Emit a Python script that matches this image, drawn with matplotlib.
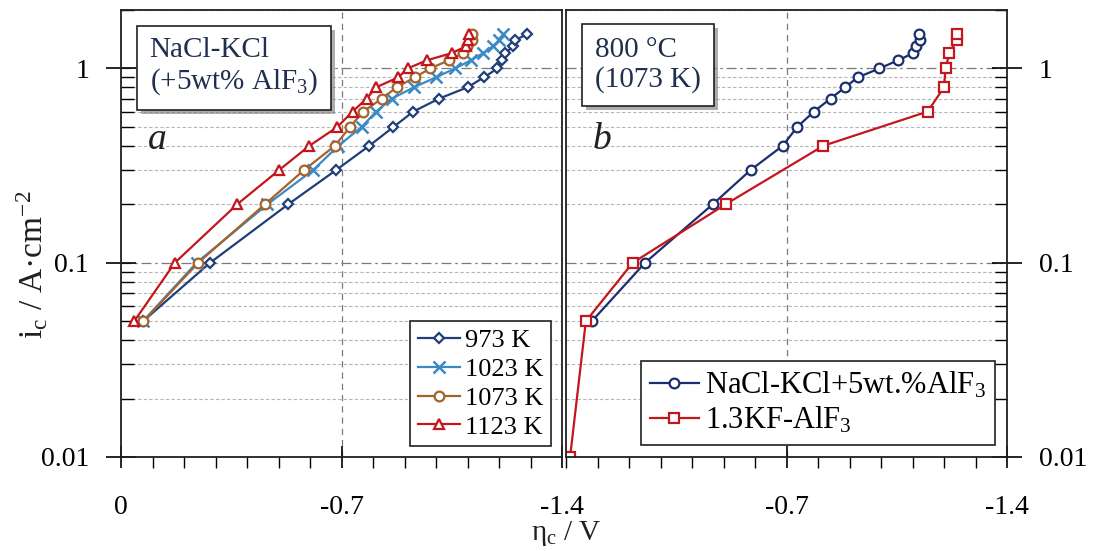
import numpy as np
import matplotlib
matplotlib.use("Agg")
import matplotlib.pyplot as plt
from matplotlib.ticker import FixedLocator, LogLocator, NullFormatter, FuncFormatter
import matplotlib.patheffects as pe

plt.rcParams['font.family'] = ['Liberation Serif', 'DejaVu Serif']
plt.rcParams['mathtext.fontset'] = 'custom'
plt.rcParams['mathtext.rm'] = 'Liberation Serif'
plt.rcParams['mathtext.it'] = 'Liberation Serif:italic'

# ---- data (cathodic overpotential, V ; current density, A/cm2) ----
i_levels = [0.05, 0.1, 0.2, 0.3, 0.4, 0.5, 0.6, 0.7, 0.8, 0.9, 1.0, 1.1, 1.2, 1.3, 1.4, 1.5]

eta_973 = [-0.07, -0.283, -0.531, -0.683, -0.788, -0.865, -0.928, -1.01, -1.10, -1.152,
           -1.195, -1.21, -1.219, -1.245, -1.25, -1.29]
eta_1023 = [-0.07, -0.24, -0.465, -0.61, -0.69, -0.764, -0.81, -0.86, -0.93, -1.0,
            -1.06, -1.11, -1.15, -1.18, -1.20, -1.214]
eta_1073 = [-0.071, -0.245, -0.457, -0.581, -0.679, -0.727, -0.769, -0.828, -0.875, -0.933,
            -0.981, -1.04, -1.087, -1.097, -1.113, -1.113]
eta_1123 = [-0.042, -0.171, -0.369, -0.502, -0.598, -0.687, -0.735, -0.78, -0.81, -0.88,
            -0.91, -0.97, -1.05, -1.095, -1.10, -1.105]

i_chl = [0.05, 0.1, 0.2, 0.3, 0.4, 0.5, 0.6, 0.7, 0.8, 0.9, 1.0, 1.1, 1.2, 1.3, 1.4, 1.5]
eta_chl = [-0.082, -0.251, -0.466, -0.586, -0.688, -0.734, -0.787, -0.84, -0.886, -0.926,
           -0.995, -1.053, -1.103, -1.111, -1.124, -1.122]
i_fl = [0.01, 0.05, 0.1, 0.2, 0.4, 0.6, 0.8, 1.0, 1.2, 1.4, 1.5]
eta_fl = [-0.013, -0.063, -0.212, -0.507, -0.817, -1.148, -1.2, -1.205, -1.217, -1.24, -1.24]

c_973 = '#203f7a'
c_1023 = '#3b8ac4'
c_1073 = '#a5622a'
c_1123 = '#c4161c'
c_blue = '#1b2f6e'
c_red = '#c4161c'
txt_c = '#1f2f4f'

fig = plt.figure(figsize=(11.01, 5.51), dpi=100)
axa = fig.add_axes([121/1101, 94/551, 441/1101, 447/551])
axb = fig.add_axes([566/1101, 94/551, 441/1101, 447/551])

def fmt_x(v, p):
    if abs(v) < 1e-9:
        return '0'
    return '%g' % v

def style(ax, right=False):
    ax.set_yscale('log')
    ax.set_ylim(0.01, 2)
    ax.set_xlim(0, -1.4)
    if right:
        ax.xaxis.set_major_locator(FixedLocator([-0.7, -1.4]))
    else:
        ax.xaxis.set_major_locator(FixedLocator([0, -0.7, -1.4]))
    ax.xaxis.set_minor_locator(FixedLocator(np.arange(0, -1.41, -0.1)))
    ax.xaxis.set_major_formatter(FuncFormatter(fmt_x))
    ax.yaxis.set_major_locator(LogLocator(base=10, numticks=10))
    ax.yaxis.set_minor_locator(LogLocator(base=10, subs=np.arange(2, 10), numticks=10))
    ax.yaxis.set_minor_formatter(NullFormatter())
    ax.yaxis.set_major_formatter(FuncFormatter(lambda v, p: '%g' % v))
    ax.tick_params(axis='x', which='major', direction='inout', length=16, width=1.2,
                   labelsize=20, pad=19)
    ax.tick_params(axis='x', which='minor', direction='out', length=8, width=1.0)
    ax.tick_params(axis='y', which='major', direction='inout', length=22, width=1.2,
                   labelsize=20, pad=12)
    ax.tick_params(axis='y', which='minor', direction='in', length=9, width=1.0)
    if right:
        ax.yaxis.tick_right()
        ax.yaxis.set_label_position('right')
    ax.grid(True, which='major', axis='y', color='#7a7a7a', linestyle=(0, (8, 3, 2, 3)), linewidth=0.9)
    ax.grid(True, which='minor', axis='y', color='#b5b5b5', linestyle=(0, (3, 2)), linewidth=0.8)
    ax.grid(True, which='major', axis='x', color='#7a7a7a', linestyle=(0, (5, 4)), linewidth=0.9)
    for s in ax.spines.values():
        s.set_linewidth(1.3)
        s.set_color('#202020')
    ax.set_axisbelow(True)

style(axa)
style(axb, right=True)
# only the -0.7 vertical gridline is drawn
for ax in (axa, axb):
    for line, loc in zip(ax.get_xgridlines(), ax.get_xticks()):
        if abs(loc + 0.7) > 1e-6:
            line.set_visible(False)

mk = dict(markerfacecolor='white', markeredgewidth=1.6, linewidth=1.6)
axa.plot(eta_973, i_levels, color=c_973, marker='D', markersize=5, label='973 K', **mk)
axa.plot(eta_1023, i_levels, color=c_1023, marker='x', markersize=8, label='1023 K',
         linewidth=1.6, markeredgewidth=1.8)
axa.plot(eta_1073, i_levels, color=c_1073, marker='o', markersize=7, label='1073 K', **mk)
axa.plot(eta_1123, i_levels, color=c_1123, marker='^', markersize=7, label='1123 K', **mk)

axb.plot(eta_chl, i_chl, color=c_blue, marker='o', markersize=7,
         label='NaCl-KCl+5wt.%AlF$_3$', **mk)
axb.plot(eta_fl, i_fl, color=c_red, marker='s', markersize=7,
         label='1.3KF-AlF$_3$', **mk)

leg_a = axa.legend(loc='lower right', fontsize=19, handlelength=1.6, handletextpad=0.2,
                   borderpad=0.3, labelspacing=0.2, fancybox=False, edgecolor='#202020',
                   framealpha=1, borderaxespad=0.4)
leg_a.get_frame().set_linewidth(1.2)
leg_b = axb.legend(loc='lower right', fontsize=22, handlelength=1.6, handletextpad=0.2,
                   borderpad=0.3, labelspacing=0.15, fancybox=False, edgecolor='#202020',
                   framealpha=1, borderaxespad=0.4)
leg_b.get_frame().set_linewidth(1.2)

shadow = [pe.SimplePatchShadow(offset=(3, -3), shadow_rgbFace='#777777', alpha=0.6), pe.Normal()]
ta = axa.text(0.065, 0.94, 'NaCl-KCl\n(+5wt% AlF$_3$)', transform=axa.transAxes, fontsize=21,
              color=txt_c, va='top', ha='left', linespacing=1.15,
              bbox=dict(boxstyle='square,pad=0.45', facecolor='white', edgecolor='#202020', linewidth=1.2))
ta.get_bbox_patch().set_path_effects(shadow)
tb = axb.text(0.065, 0.94, '800 °C\n(1073 K)', transform=axb.transAxes, fontsize=21,
              color=txt_c, va='top', ha='left', linespacing=1.15,
              bbox=dict(boxstyle='square,pad=0.45', facecolor='white', edgecolor='#202020', linewidth=1.2))
tb.get_bbox_patch().set_path_effects(shadow)

axa.text(0.06, 0.69, 'a', transform=axa.transAxes, fontsize=27, style='italic', color='#202020')
axb.text(0.06, 0.69, 'b', transform=axb.transAxes, fontsize=27, style='italic', color='#202020')

fig.text(33/1101, 1 - 265/551, 'i$_\\mathrm{c}$ / A·cm$^{-2}$', rotation=90, fontsize=24,
         ha='center', va='center', color='#202020')
fig.text(566/1101, 1 - 534/551, 'η$_\\mathrm{c}$ / V', fontsize=21, ha='center', va='center',
         color='#202020')

fig.savefig('out.png', dpi=100)
